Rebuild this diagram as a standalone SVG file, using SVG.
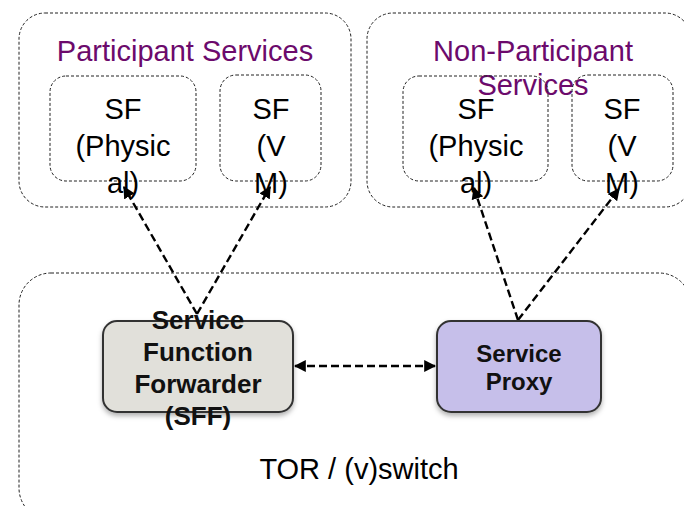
<svg xmlns="http://www.w3.org/2000/svg" width="684" height="506" viewBox="0 0 684 506">
  <style>
    .zone { fill: none; stroke: #222; stroke-width: 1; stroke-dasharray: 3 2; }
    .title { font-family: "Liberation Sans", Arial, sans-serif; font-size: 29px; fill: #6c0a6c; text-anchor: middle; }
    .sf { font-family: "Liberation Sans", Arial, sans-serif; font-size: 29px; fill: #000; text-anchor: middle; }
    .lbl { font-family: "Liberation Sans", Arial, sans-serif; font-size: 29px; fill: #000; text-anchor: middle; }
    .bold { font-family: "Liberation Sans", Arial, sans-serif; font-weight: bold; fill: #111; text-anchor: middle; }
    .link { fill: none; stroke: #000; stroke-width: 2.4; stroke-dasharray: 8 4; }
    .box { stroke: #333; stroke-width: 2; }
  </style>
  <defs>
    <marker id="arrow" viewBox="0 0 10 10" refX="9" refY="5" markerWidth="5" markerHeight="5" orient="auto-start-reverse" markerUnits="strokeWidth">
      <path d="M0,0 L10,5 L0,10 Z" fill="#000"/>
    </marker>
    <filter id="shadow" x="-20%" y="-20%" width="140%" height="150%">
      <feDropShadow dx="0" dy="3" stdDeviation="2.5" flood-color="#000" flood-opacity="0.3"/>
    </filter>
  </defs>

  <rect width="684" height="506" fill="#fff"/>

  <!-- Participant services area -->
  <g id="participant-services">
    <rect class="zone" x="19" y="13" width="332" height="194" rx="26"/>
    <text class="title" x="185" y="61">Participant Services</text>
  </g>
  <g id="participant-sf-physical">
    <rect class="zone" x="50" y="76" width="146" height="105" rx="16"/>
    <text class="sf" x="123" y="119">SF</text>
    <text class="sf" x="123" y="156">(Physic</text>
    <text class="sf" x="123" y="193">al)</text>
  </g>
  <g id="participant-sf-vm">
    <rect class="zone" x="220" y="75" width="101" height="106" rx="16"/>
    <text class="sf" x="271" y="119">SF</text>
    <text class="sf" x="271" y="156">(V</text>
    <text class="sf" x="271" y="193">M)</text>
  </g>

  <!-- Non-participant services area -->
  <g id="non-participant-services">
    <rect class="zone" x="367" y="13" width="324" height="194" rx="26"/>
    <text class="title" x="533" y="61">Non-Participant</text>
    <text class="title" x="533" y="95">Services</text>
  </g>
  <g id="non-participant-sf-physical">
    <rect class="zone" x="403" y="76" width="145" height="105" rx="16"/>
    <text class="sf" x="476" y="119">SF</text>
    <text class="sf" x="476" y="156">(Physic</text>
    <text class="sf" x="476" y="193">al)</text>
  </g>
  <g id="non-participant-sf-vm">
    <rect class="zone" x="572" y="75" width="101" height="106" rx="16"/>
    <text class="sf" x="622" y="119">SF</text>
    <text class="sf" x="622" y="156">(V</text>
    <text class="sf" x="622" y="193">M)</text>
  </g>

  <!-- Switch area -->
  <g id="tor-switch">
    <rect class="zone" x="19" y="273" width="672" height="247" rx="32"/>
    <text class="lbl" x="359" y="479">TOR / (v)switch</text>
  </g>

  <!-- Connectors -->
  <g id="connectors">
    <line class="link" x1="197" y1="314" x2="124" y2="187" marker-end="url(#arrow)"/>
    <line class="link" x1="197" y1="314" x2="270" y2="187" marker-end="url(#arrow)"/>
    <line class="link" x1="518" y1="320" x2="474" y2="188" marker-end="url(#arrow)"/>
    <line class="link" x1="518" y1="320" x2="619" y2="189" marker-end="url(#arrow)"/>
    <line class="link" x1="295" y1="366" x2="435" y2="366" marker-start="url(#arrow)" marker-end="url(#arrow)"/>
  </g>

  <!-- Service Function Forwarder -->
  <g id="sff">
    <rect class="box" x="103" y="321" width="190" height="91" rx="14" fill="#e1e0da" filter="url(#shadow)"/>
    <text class="bold" x="198" y="329" font-size="26">Service</text>
    <text class="bold" x="198" y="361" font-size="26">Function</text>
    <text class="bold" x="198" y="393" font-size="26">Forwarder</text>
    <text class="bold" x="198" y="425" font-size="26">(SFF)</text>
  </g>

  <!-- Service Proxy -->
  <g id="service-proxy">
    <rect class="box" x="437" y="321" width="164" height="91" rx="14" fill="#c6bfea" filter="url(#shadow)"/>
    <text class="bold" x="519" y="362" font-size="24">Service</text>
    <text class="bold" x="519" y="390" font-size="24">Proxy</text>
  </g>
</svg>
